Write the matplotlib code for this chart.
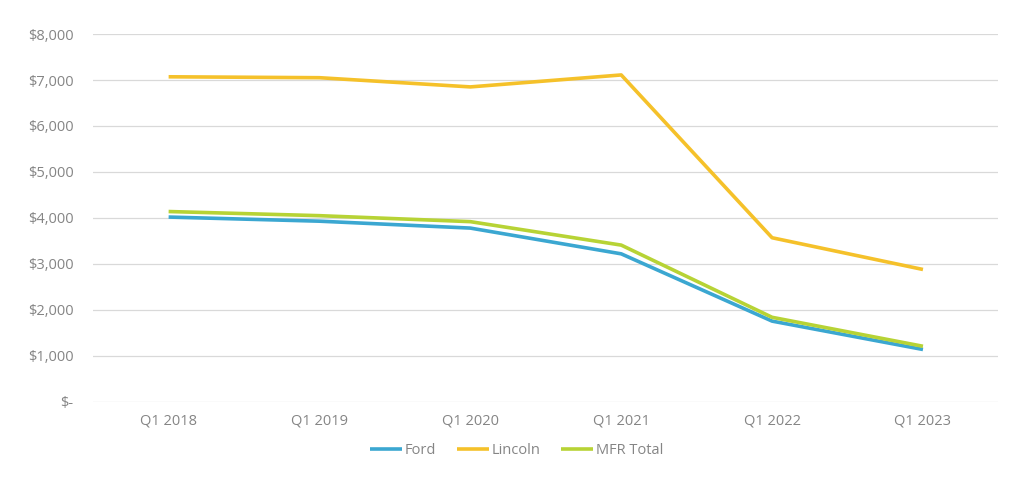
import matplotlib
matplotlib.use("Agg")
import matplotlib.pyplot as plt
from matplotlib.ticker import FuncFormatter

quarters = ["Q1 2018", "Q1 2019", "Q1 2020", "Q1 2021", "Q1 2022", "Q1 2023"]
ford = [4020, 3930, 3780, 3220, 1757, 1140]
lincoln = [7070, 7050, 6850, 7110, 3570, 2880]
mfr_total = [4140, 4050, 3920, 3410, 1840, 1210]

series = [("Ford", ford, "#3ba7d1"),
          ("Lincoln", lincoln, "#f5c12a"),
          ("MFR Total", mfr_total, "#b7d335")]

plt.rcParams["font.family"] = ["Open Sans", "DejaVu Sans"]
grey = "#858585"

fig = plt.figure(figsize=(10.24, 4.86), dpi=100)
ax = fig.add_axes([0.091, 0.173, 0.884, 0.757])
x = range(len(quarters))
for name, vals, col in series:
    ax.plot(x, vals, color=col, lw=2.6, label=name, solid_capstyle="butt")

ax.set_xlim(-0.5, len(quarters) - 0.5)
ax.set_ylim(0, 8000)
ax.set_yticks(range(0, 8001, 1000))
ax.yaxis.set_major_formatter(FuncFormatter(
    lambda v, p: "$-" if v == 0 else f"${v:,.0f}"))
ax.set_xticks(list(x))
ax.set_xticklabels(quarters)
ax.tick_params(length=0, colors=grey, labelsize=10.5)
ax.tick_params(axis="y", pad=14)
ax.tick_params(axis="x", pad=8)
ax.grid(axis="y", color="#d9d9d9", lw=0.9)
ax.set_axisbelow(True)
for s in ax.spines.values():
    s.set_visible(False)

leg = ax.legend(loc="upper center", bbox_to_anchor=(0.468, -0.075), ncol=3,
                frameon=False, fontsize=10.5, handlelength=2.2,
                handletextpad=0.2, columnspacing=1.4)
for t in leg.get_texts():
    t.set_color(grey)

fig.savefig("out.png")
